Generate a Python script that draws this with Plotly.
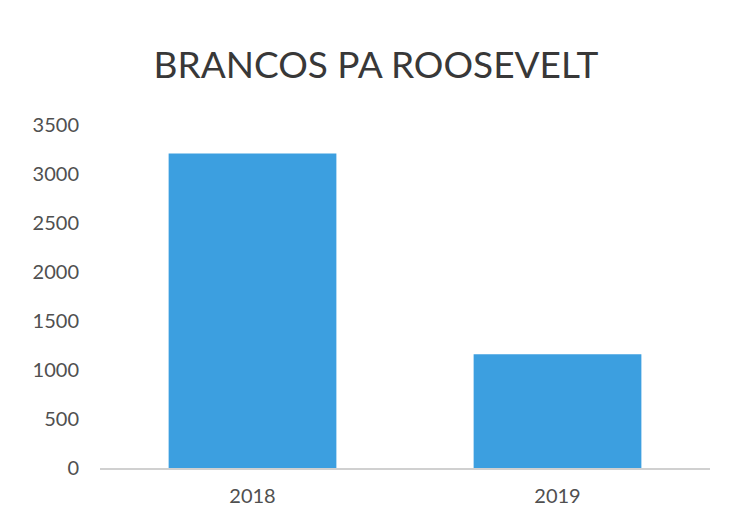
import plotly.graph_objects as go

# Yearly counts
years = ["2018", "2019"]
counts = [3210, 1160]
y_ticks = [0, 500, 1000, 1500, 2000, 2500, 3000, 3500]

fig = go.Figure(
    go.Bar(
        x=years,
        y=counts,
        marker=dict(color="#3c9fe0", line=dict(width=0)),
    )
)

fig.update_layout(
    width=730,
    height=524,
    paper_bgcolor="white",
    plot_bgcolor="white",
    bargap=0.45,
    showlegend=False,
    margin=dict(l=100, r=20, t=125, b=56),
    title=dict(
        text="BRANCOS PA ROOSEVELT",
        x=0.515,
        xanchor="center",
        y=0.876,
        yanchor="middle",
        font=dict(family="Lato, Open Sans, sans-serif", size=37, color="#383838"),
    ),
    font=dict(family="Lato, Open Sans, sans-serif", color="#555555"),
)

fig.update_xaxes(
    showgrid=False,
    showline=True,
    linecolor="#d0d0d0",
    linewidth=1.5,
    ticks="",
    tickfont=dict(size=20, color="#505050"),
    ticklabelstandoff=9,
)

fig.update_yaxes(
    range=[0, 3500],
    tickvals=y_ticks,
    showgrid=False,
    zeroline=False,
    showline=False,
    ticks="",
    tickfont=dict(size=20, color="#505050"),
    ticklabelstandoff=20,
)

fig.write_html("out.html")
